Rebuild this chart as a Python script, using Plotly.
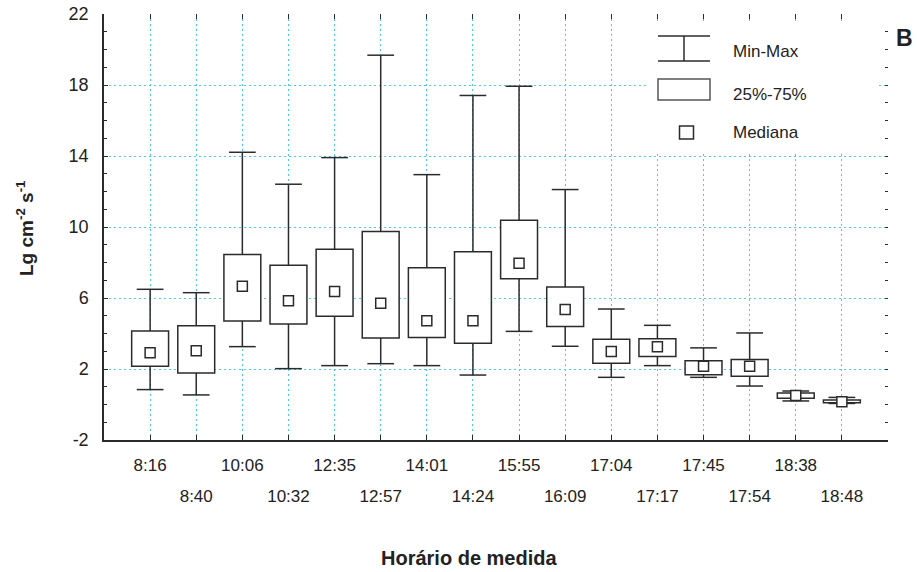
import plotly.graph_objects as go

# ---------------- data ----------------
categories = ["8:16", "8:40", "10:06", "10:32", "12:35", "12:57", "14:01", "14:24",
              "15:55", "16:09", "17:04", "17:17", "17:45", "17:54", "18:38", "18:48"]
min_vals = [0.84, 0.54, 3.26, 2.02, 2.19, 2.30, 2.19, 1.66, 4.12, 3.28, 1.53, 2.19, 1.53, 1.04, 0.20, 0.06]
q1_vals = [2.15, 1.78, 4.71, 4.54, 4.97, 3.75, 3.77, 3.45, 7.08, 4.40, 2.32, 2.71, 1.68, 1.59, 0.35, 0.10]
median_vals = [2.92, 3.03, 6.66, 5.84, 6.36, 5.70, 4.72, 4.72, 7.96, 5.35, 2.99, 3.26, 2.15, 2.15, 0.51, 0.16]
q3_vals = [4.14, 4.44, 8.45, 7.84, 8.74, 9.74, 7.71, 8.60, 10.38, 6.62, 3.67, 3.71, 2.47, 2.54, 0.65, 0.25]
max_vals = [6.49, 6.30, 14.21, 12.41, 13.91, 19.68, 12.95, 17.41, 17.93, 12.11, 5.38, 4.46, 3.19, 4.03, 0.76, 0.40]
y_ticks = [-2, 2, 6, 10, 14, 18, 22]
legend_labels = ["Min-Max", "25%-75%", "Mediana"]

# ---------------- styling ----------------
FONT = "Liberation Sans, Arial, sans-serif"
INK = "#2b2b2b"
GRID = "#4cc6f2"
GRID_DASH = "2px,3px"
W, H = 917, 572
ML, MR, MT, MB = 104, 29, 14, 132
PW, PH = W - ML - MR, H - MT - MB

pos = list(range(len(categories)))
BOX_W = 0.8
CAP_HALF = 0.29


def px(x):
    return (x - ML) / PW


def py(y):
    return 1 - (y - MT) / PH


fig = go.Figure()

# boxes (25%-75%)
fig.add_trace(go.Bar(
    x=pos, base=q1_vals, y=[b - a for a, b in zip(q1_vals, q3_vals)], width=BOX_W,
    marker=dict(color="white", line=dict(color=INK, width=1.5)),
    showlegend=False, hoverinfo="skip"))

# whiskers (Min-Max)
wx, wy = [], []
for i, (lo, a, b, hi) in enumerate(zip(min_vals, q1_vals, q3_vals, max_vals)):
    wx += [i, i, None, i - CAP_HALF, i + CAP_HALF, None,
           i, i, None, i - CAP_HALF, i + CAP_HALF, None]
    wy += [b, hi, None, hi, hi, None, a, lo, None, lo, lo, None]
fig.add_trace(go.Scatter(x=wx, y=wy, mode="lines", line=dict(color=INK, width=1.5),
                         showlegend=False, hoverinfo="skip"))

# medians
fig.add_trace(go.Scatter(x=pos, y=median_vals, mode="markers",
                         marker=dict(symbol="square", size=10, color="white",
                                     line=dict(color=INK, width=1.5)),
                         showlegend=False, hoverinfo="skip"))

# helper traces so that overlay axes are drawn
fig.add_trace(go.Scatter(x=[], y=[], xaxis="x2", yaxis="y", showlegend=False))
fig.add_trace(go.Scatter(x=[], y=[], xaxis="x3", yaxis="y2", showlegend=False))

even = pos[0::2]
odd = pos[1::2]
xr = [-1, len(categories)]

fig.update_layout(
    width=W, height=H,
    margin=dict(l=ML, r=MR, t=MT, b=MB, autoexpand=False),
    paper_bgcolor="white", plot_bgcolor="white",
    font=dict(family=FONT, color="#222"),
    showlegend=False,
    xaxis=dict(range=xr, tickvals=even, ticktext=[categories[i] for i in even], automargin=False,
               ticks="inside", ticklen=5, tickcolor=INK, tickwidth=1.2,
               showline=True, linecolor=INK, linewidth=1.5, showgrid=False, zeroline=False,
               tickfont=dict(size=17, color="#222"), ticklabelstandoff=9),
    xaxis2=dict(range=xr, overlaying="x", side="bottom", anchor="y", automargin=False,
                tickvals=odd, ticktext=[categories[i] for i in odd],
                ticks="inside", ticklen=5, tickcolor=INK, tickwidth=1.2,
                showline=False, showgrid=False, zeroline=False,
                tickfont=dict(size=17, color="#222"), ticklabelstandoff=44),
    xaxis3=dict(range=xr, overlaying="x", side="top", anchor="y2", automargin=False,
                tickvals=pos + [len(categories)], showticklabels=False,
                ticks="inside", ticklen=5, tickcolor=INK, tickwidth=1.2,
                showline=False, zeroline=False,
                showgrid=True, gridcolor=GRID, griddash=GRID_DASH, gridwidth=1.2),
    yaxis=dict(range=[-2, 22], tickvals=y_ticks, ticktext=[str(v) for v in y_ticks], automargin=False,
               ticks="inside", ticklen=4, tickcolor=INK, tickwidth=1.2,
               showline=True, linecolor=INK, linewidth=1.5, zeroline=False,
               showgrid=True, gridcolor=GRID, griddash=GRID_DASH, gridwidth=1.2,
               minor=dict(dtick=1, tick0=0, ticks="inside", ticklen=3, tickcolor=INK, showgrid=False),
               tickfont=dict(size=18, color="#222"), ticklabelstandoff=10),
    yaxis2=dict(range=[-2, 22], overlaying="y", side="right", anchor="x3", automargin=False,
                dtick=1, tick0=0, ticks="inside", ticklen=3, tickcolor=INK, tickwidth=1.2,
                showticklabels=False, showgrid=False, showline=False, zeroline=False),
)

# ---------------- legend drawn inside the plot ----------------
shapes = [
    dict(type="rect", xref="paper", yref="paper", x0=px(646), x1=px(876), y0=py(154), y1=py(21),
         fillcolor="white", line=dict(width=0), layer="above"),
    # Min-Max symbol
    dict(type="line", xref="paper", yref="paper", x0=px(658), x1=px(710), y0=py(36), y1=py(36),
         line=dict(color=INK, width=1.5), layer="above"),
    dict(type="line", xref="paper", yref="paper", x0=px(658), x1=px(710), y0=py(61), y1=py(61),
         line=dict(color=INK, width=1.5), layer="above"),
    dict(type="line", xref="paper", yref="paper", x0=px(684), x1=px(684), y0=py(36), y1=py(61),
         line=dict(color=INK, width=1.5), layer="above"),
    # 25%-75% symbol
    dict(type="rect", xref="paper", yref="paper", x0=px(658), x1=px(710), y0=py(100), y1=py(79),
         fillcolor="white", line=dict(color="#555", width=1.5), layer="above"),
    # Mediana symbol
    dict(type="rect", xref="paper", yref="paper", x0=px(679.5), x1=px(693.5), y0=py(139), y1=py(126),
         fillcolor="white", line=dict(color=INK, width=1.5), layer="above"),
]
fig.update_layout(shapes=shapes)

annotations = [
    dict(text=legend_labels[0], x=px(731), y=py(51), xref="paper", yref="paper",
         xanchor="left", yanchor="middle", showarrow=False, font=dict(size=17, color="#222")),
    dict(text=legend_labels[1], x=px(731), y=py(95), xref="paper", yref="paper",
         xanchor="left", yanchor="middle", showarrow=False, font=dict(size=17, color="#222")),
    dict(text=legend_labels[2], x=px(731), y=py(133), xref="paper", yref="paper",
         xanchor="left", yanchor="middle", showarrow=False, font=dict(size=17, color="#222")),
    dict(text="<b>B</b>", x=px(904), y=py(38), xref="paper", yref="paper",
         xanchor="center", yanchor="middle", showarrow=False, font=dict(size=23, color="#222")),
    dict(text="<b>Lg cm<sup>-2</sup> s<sup>-1</sup></b>", x=px(25), y=py(228), xref="paper", yref="paper",
         xanchor="center", yanchor="middle", textangle=-90, showarrow=False,
         font=dict(size=19, color="#222")),
    dict(text="<b>Horário de medida</b>", x=px(469), y=py(558), xref="paper", yref="paper",
         xanchor="center", yanchor="middle", showarrow=False, font=dict(size=20, color="#222")),
]
fig.update_layout(annotations=annotations)

fig.write_html("out.html")
